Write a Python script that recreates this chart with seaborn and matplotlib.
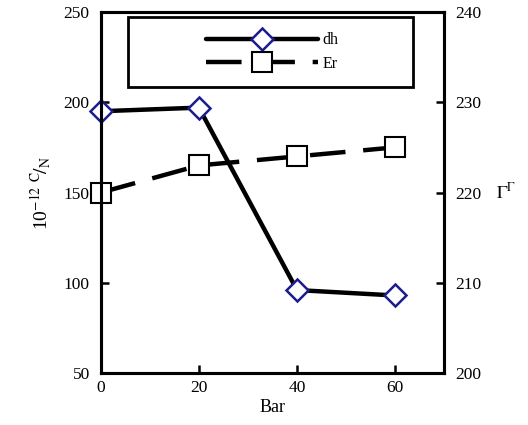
import numpy as np
import pandas as pd
import seaborn as sns
import matplotlib.pyplot as plt
from matplotlib.patches import Rectangle

# data
bar = [0, 20, 40, 60]
dh = [195, 197, 96, 93]      # left axis
er = [220, 223, 224, 225]    # right axis

sns.set_style("ticks")
plt.rcParams['font.family'] = ['Liberation Serif', 'DejaVu Serif']
plt.rcParams['mathtext.fontset'] = 'stix'
for k in ('text.color', 'axes.labelcolor', 'xtick.color', 'ytick.color', 'axes.edgecolor'):
    plt.rcParams[k] = 'black'

fig = plt.figure(figsize=(5.28, 4.25), dpi=100)
ax1 = fig.add_axes([0.191, 0.122, 0.650, 0.850])
ax2 = ax1.twinx()

sns.lineplot(x=bar, y=dh, ax=ax1, color='black', linewidth=3.2,
             marker='D', markersize=11, markerfacecolor='white',
             markeredgecolor='#1c1c8e', markeredgewidth=1.8,
             clip_on=False, label='dh', legend=False)
sns.lineplot(x=bar, y=er, ax=ax2, color='black', linewidth=3.2,
             linestyle=(0, (8, 4)), marker='s', markersize=15,
             markerfacecolor='white', markeredgecolor='black',
             markeredgewidth=1.5, clip_on=False, label='Er', legend=False)

ax1.set_xlim(0, 70)
ax1.set_ylim(50, 250)
ax2.set_ylim(200, 240)
ax1.set_xticks([0, 20, 40, 60])
ax1.set_yticks([50, 100, 150, 200, 250])
ax2.set_yticks([200, 210, 220, 230, 240])

for ax in (ax1, ax2):
    for s in ax.spines.values():
        s.set_linewidth(2.2)
        s.set_edgecolor('black')
        s.set_visible(True)
    ax.tick_params(direction='in', length=6, width=1.8, labelsize=12.5, colors='black')
ax1.tick_params(axis='y', pad=8)
ax1.tick_params(axis='x', pad=5)
ax2.tick_params(axis='y', pad=8)

ax1.set_xlabel('Bar', fontsize=13, labelpad=2)
ax1.set_ylabel(r'10$^{-12}$ $^{\mathrm{C}}\!/_{\mathrm{N}}$', fontsize=14, labelpad=8)
ax2.set_ylabel(r'$\Gamma^{\Gamma}$', fontsize=13, rotation=0, labelpad=18, va='center')

# legend box
ax2.add_patch(Rectangle((0.079, 0.792), 0.831, 0.194, transform=ax2.transAxes,
                        fill=False, edgecolor='black', linewidth=2, zorder=5))
h1, l1 = ax1.get_legend_handles_labels()
h2, l2 = ax2.get_legend_handles_labels()
leg = ax2.legend(h1 + h2, l1 + l2, loc='center', bbox_to_anchor=(0.5, 0.889),
                 frameon=False, fontsize=11.5, handlelength=7.0, handletextpad=0.3,
                 labelspacing=0.45, borderpad=0)

fig.savefig('out.png', dpi=100)
